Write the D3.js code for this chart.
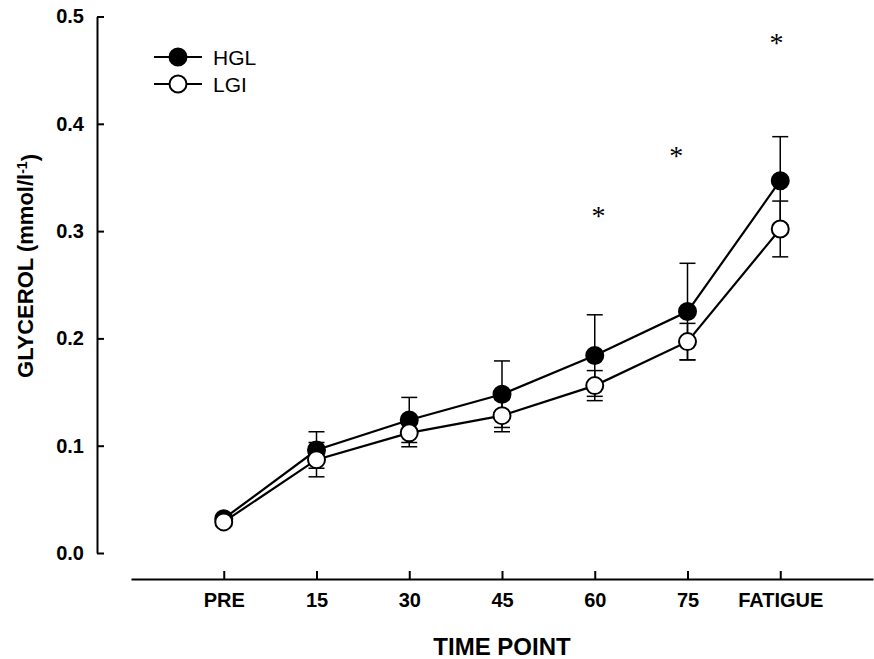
<!DOCTYPE html>
<html>
<head>
<meta charset="utf-8">
<script src="https://cdn.jsdelivr.net/npm/d3@7"></script>
<style>
  body { margin: 0; background: #fff; }
  svg { font-family: "Liberation Sans", Arial, sans-serif; }
  .axis path, .axis line { stroke: #000; stroke-width: 2; }
  .axis text { font-size: 20px; font-weight: bold; fill: #000; }
</style>
</head>
<body>
<div class="chart"></div>
<script>
// time points
let categories = ['PRE', '15', '30', '45', '60', '75', 'FATIGUE'];
// glycerol, mmol/l
let hglMean = [0.032, 0.096, 0.124, 0.148, 0.184, 0.225, 0.347];
let hglErr  = [0.003, 0.017, 0.021, 0.031, 0.038, 0.045, 0.041];
let lgiMean = [0.029, 0.087, 0.112, 0.128, 0.156, 0.197, 0.302];
let lgiErr  = [0.003, 0.016, 0.013, 0.015, 0.014, 0.017, 0.026];
// asterisks (x in category index units, y in mmol/l)
let sigX = [4.04, 4.88, 5.96];
let sigY = [0.318, 0.374, 0.479];
let yTicks = [0, 0.1, 0.2, 0.3, 0.4, 0.5];

let width = 874, height = 659;

let svg = d3.select('.chart')
	.append('svg')
	.attr('width', width)
	.attr('height', height);

let xScale = d3.scaleLinear()
	.domain([-1, 7])
	.range([131, 873]);

let yScale = d3.scaleLinear()
	.domain([0, 0.5])
	.range([553, 16.5]);

// y axis, ticks pointing inward
let yAxis = d3.axisLeft(yScale)
	.tickValues(yTicks)
	.tickFormat(d3.format('.1f'))
	.tickSizeInner(-7)
	.tickSizeOuter(0)
	.tickPadding(13);

svg.append('g')
	.attr('class', 'axis')
	.attr('transform', 'translate(97, 0)')
	.call(yAxis);

// x axis, detached below the plot
let xAxis = d3.axisBottom(xScale)
	.tickValues(d3.range(categories.length))
	.tickFormat(i => categories[i])
	.tickSizeInner(-8)
	.tickSizeOuter(0)
	.tickPadding(14);

svg.append('g')
	.attr('class', 'axis')
	.attr('transform', 'translate(0, 579)')
	.call(xAxis);

// axis titles
svg.append('text')
	.attr('x', 502)
	.attr('y', 655)
	.attr('text-anchor', 'middle')
	.style('font-size', '24px')
	.style('font-weight', 'bold')
	.text('TIME POINT');

let yTitle = svg.append('text')
	.attr('transform', 'translate(33, 266) rotate(-90)')
	.attr('text-anchor', 'middle')
	.style('font-size', '22px')
	.style('font-weight', 'bold');
yTitle.append('tspan').text('GLYCEROL (mmol/l');
yTitle.append('tspan').attr('dy', '-0.45em').style('font-size', '14px').text('-1');
yTitle.append('tspan').attr('dy', '0.45em').text(')');

let series = [
	{name: 'HGL', mean: hglMean, err: hglErr, fill: '#000'},
	{name: 'LGI', mean: lgiMean, err: lgiErr, fill: '#fff'}
];

let line = d3.line()
	.x((d, i) => xScale(i))
	.y(d => yScale(d));

series.forEach(s => {
	svg.append('path')
		.datum(s.mean)
		.attr('d', line)
		.style('fill', 'none')
		.style('stroke', '#000')
		.style('stroke-width', 2.2);
});

// error bars
series.forEach(s => {
	let g = svg.append('g')
		.style('stroke', '#000')
		.style('stroke-width', 1.5);
	s.mean.forEach((m, i) => {
		let x = xScale(i);
		[m + s.err[i], m - s.err[i]].forEach(v => {
			g.append('line')
				.attr('x1', x).attr('x2', x)
				.attr('y1', yScale(m)).attr('y2', yScale(v));
			g.append('line')
				.attr('x1', x - 8).attr('x2', x + 8)
				.attr('y1', yScale(v)).attr('y2', yScale(v));
		});
	});
});

series.forEach(s => {
	svg.append('g')
		.selectAll('circle')
		.data(s.mean)
		.enter()
		.append('circle')
		.attr('cx', (d, i) => xScale(i))
		.attr('cy', d => yScale(d))
		.attr('r', 8.5)
		.style('fill', s.fill)
		.style('stroke', '#000')
		.style('stroke-width', 2);
});

// significance marks
svg.append('g')
	.selectAll('text')
	.data(sigY)
	.enter()
	.append('text')
	.attr('x', (d, i) => xScale(sigX[i]))
	.attr('y', d => yScale(d))
	.attr('dy', '0.47em')
	.attr('text-anchor', 'middle')
	.style('font-family', '"Liberation Serif", serif')
	.style('font-size', '28px')
	.text('*');

// legend
let legend = svg.append('g')
	.selectAll('g')
	.data(series)
	.enter()
	.append('g')
	.attr('transform', (d, i) => 'translate(154, ' + (57 + i * 27) + ')');

legend.append('line')
	.attr('x1', 0).attr('x2', 48)
	.style('stroke', '#000')
	.style('stroke-width', 2.2);

legend.append('circle')
	.attr('cx', 24)
	.attr('r', 8.5)
	.style('fill', d => d.fill)
	.style('stroke', '#000')
	.style('stroke-width', 2);

legend.append('text')
	.attr('x', 59)
	.attr('dy', '0.36em')
	.style('font-size', '21px')
	.text(d => d.name);
</script>
</body>
</html>
